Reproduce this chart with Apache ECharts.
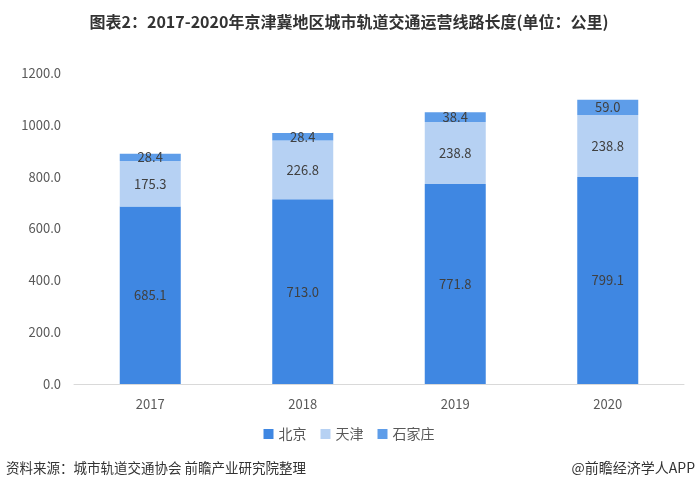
<!DOCTYPE html>
<html><head><meta charset="utf-8">
<script src="https://cdn.jsdelivr.net/npm/echarts@6/dist/echarts.min.js"></script>
<style>html,body{margin:0;padding:0;background:#fff;}#c{width:698px;height:492px;}</style>
</head><body><div id="c"></div>
<script>
const categories = ['2017', '2018', '2019', '2020'];
const beijing = [685.1, 713.0, 771.8, 799.1];
const tianjin = [175.3, 226.8, 238.8, 238.8];
const shijiazhuang = [28.4, 28.4, 38.4, 59.0];
const seriesNames = ['北京', '天津', '石家庄'];
const yTicks = {min: 0, max: 1200, interval: 200};

const chart = echarts.init(document.getElementById('c'));
const labelCfg = {show: true, position: 'inside', color: '#404040', fontSize: 13, fontFamily: 'Noto Sans CJK SC', formatter: p => p.value.toFixed(1)};
chart.setOption({
  animation: false,
  title: {
    text: '图表2：2017-2020年京津冀地区城市轨道交通运营线路长度(单位：公里)',
    left: 'center', top: 9,
    textStyle: {fontSize: 16, fontWeight: 'bold', color: '#333', fontFamily: 'Noto Sans CJK SC'}
  },
  legend: {
    bottom: 46, left: 'center', itemWidth: 10, itemHeight: 10, itemGap: 14,
    icon: 'rect',
    textStyle: {fontSize: 14, color: '#595959', fontFamily: 'Noto Sans CJK SC'},
    data: seriesNames
  },
  grid: {left: 74, right: 14, top: 73, bottom: 108},
  xAxis: {
    type: 'category', data: categories,
    axisLine: {lineStyle: {color: '#d9d9d9'}},
    axisTick: {show: false},
    axisLabel: {color: '#595959', fontSize: 13, margin: 14, fontFamily: 'Noto Sans CJK SC'}
  },
  yAxis: {
    type: 'value', min: yTicks.min, max: yTicks.max, interval: yTicks.interval,
    axisLine: {show: false}, axisTick: {show: false},
    splitLine: {show: false},
    axisLabel: {color: '#595959', fontSize: 13, margin: 13, formatter: v => v.toFixed(1), fontFamily: 'Noto Sans CJK SC'}
  },
  series: [
    {name: seriesNames[0], type: 'bar', stack: 't', data: beijing, barWidth: 61, itemStyle: {color: '#3f87e2'}, label: labelCfg},
    {name: seriesNames[1], type: 'bar', stack: 't', data: tianjin, itemStyle: {color: '#b6d1f3'}, label: labelCfg},
    {name: seriesNames[2], type: 'bar', stack: 't', data: shijiazhuang, itemStyle: {color: '#5e9de9'}, label: labelCfg}
  ],
  graphic: [
    {type: 'text', left: 6, top: 461, style: {text: '资料来源：城市轨道交通协会 前瞻产业研究院整理', fill: '#333', font: '13.5px "Noto Sans CJK SC"'}},
    {type: 'text', right: 3, top: 461, style: {text: '@前瞻经济学人APP', fill: '#333', font: '14px "Noto Sans CJK SC"'}}
  ]
});
</script></body></html>
